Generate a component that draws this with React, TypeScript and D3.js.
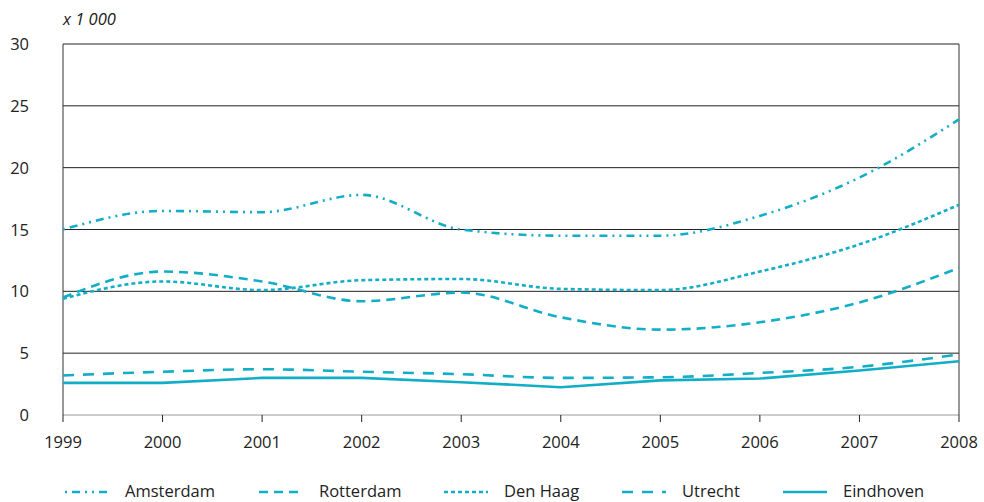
import React from "react";
import * as d3 from "d3";

const years = [1999, 2000, 2001, 2002, 2003, 2004, 2005, 2006, 2007, 2008];
const yTicks = [0, 5, 10, 15, 20, 25, 30];
const seriesNames = ["Amsterdam", "Rotterdam", "Den Haag", "Utrecht", "Eindhoven"];
const amsterdam = [15.0, 16.5, 16.4, 17.8, 15.0, 14.5, 14.5, 16.1, 19.2, 23.9];
const rotterdam = [9.5, 11.6, 10.8, 9.2, 9.9, 7.9, 6.9, 7.5, 9.1, 11.9];
const denHaag = [9.4, 10.8, 10.1, 10.9, 11.0, 10.2, 10.1, 11.6, 13.8, 17.0];
const utrecht = [3.2, 3.5, 3.7, 3.5, 3.3, 3.0, 3.05, 3.4, 3.9, 4.9];
const eindhoven = [2.6, 2.6, 3.0, 3.0, 2.65, 2.25, 2.8, 2.95, 3.6, 4.35];

const W = 984, H = 502;
const M = { left: 63, right: 959, top: 44, bottom: 415 };
const color = "#12adc6";
const dashes = ["2 5 8 5 2 5", "9 6", "4 3", "11 9", ""];
const legendX = [63, 257, 442, 620, 781];

export default function App() {
  const x = d3.scaleLinear().domain([1999, 2008]).range([M.left, M.right]);
  const y = d3.scaleLinear().domain([0, 30]).range([M.bottom, M.top]);
  const all = [amsterdam, rotterdam, denHaag, utrecht, eindhoven];
  const curved = d3.line<number>().x((_, i) => x(years[i])).y((d) => y(d)).curve(d3.curveMonotoneX);
  const straight = d3.line<number>().x((_, i) => x(years[i])).y((d) => y(d));
  const font = "'Open Sans', sans-serif";
  const fs = 16.5;
  return (
    <svg width={W} height={H} style={{ position: "absolute", left: 0, top: 0 }} fontFamily={font}>
      <text x={M.left} y={25} fontSize={fs} fontStyle="italic" fill="#222">x 1 000</text>
      {yTicks.map((t) => (
        <g key={t}>
          <line x1={M.left} x2={M.right} y1={y(t)} y2={y(t)} stroke={t === 0 ? "#999" : "#222"} strokeWidth={1} />
          <text x={29} y={y(t) + 6} fontSize={fs} textAnchor="end" fill="#222">{t}</text>
        </g>
      ))}
      <line x1={M.left} x2={M.left} y1={M.top} y2={M.bottom} stroke="#333" />
      <line x1={M.right} x2={M.right} y1={M.top} y2={M.bottom} stroke="#333" />
      {years.map((yr) => (
        <g key={yr}>
          <line x1={x(yr)} x2={x(yr)} y1={M.bottom} y2={M.bottom + 7} stroke="#222" />
          <text x={x(yr)} y={448} fontSize={fs} textAnchor="middle" fill="#222">{yr}</text>
        </g>
      ))}
      {all.map((s, i) => (
        <path key={i} d={(i === 4 ? straight(s) : curved(s)) || ""} fill="none" stroke={color} strokeWidth={2.6}
          strokeDasharray={dashes[i] || undefined} />
      ))}
      {seriesNames.map((n, i) => (
        <g key={n}>
          <line x1={legendX[i] + 2} x2={legendX[i] + 46} y1={492} y2={492} stroke={color} strokeWidth={2.6}
            strokeDasharray={dashes[i] || undefined} />
          <text x={legendX[i] + 62} y={497} fontSize={fs} fill="#222">{n}</text>
        </g>
      ))}
    </svg>
  );
}
